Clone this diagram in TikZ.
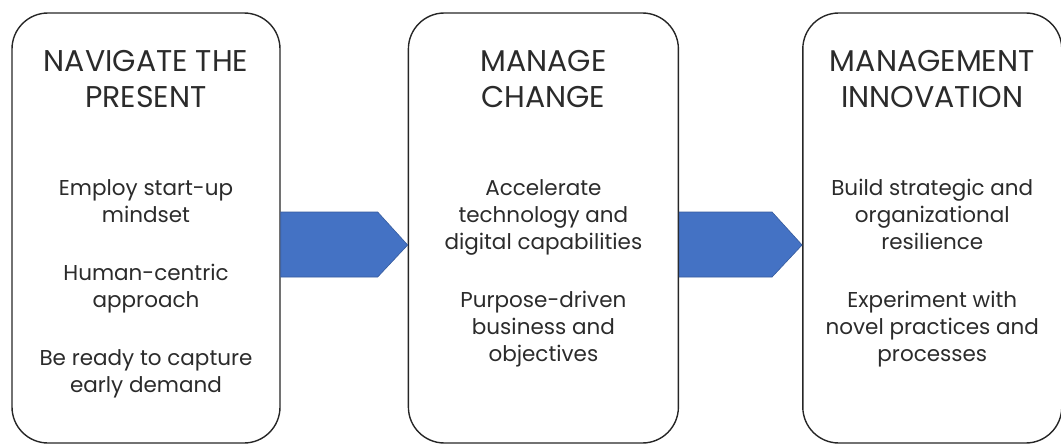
\documentclass[tikz,border=0pt]{standalone}
\usepackage{fontspec}
\setmainfont{Poppins}
\usetikzlibrary{positioning,calc}
\definecolor{arrowblue}{HTML}{4472C4}
\definecolor{inkgray}{HTML}{2B2B2B}
\tikzset{
  phasebox/.style={draw=black!85, line width=1.4pt, rounded corners=36pt, minimum height=430pt, inner sep=0pt},
  phasetitle/.style={align=center, inner sep=0pt, text=inkgray, font=\fontsize{30}{36}\selectfont},
  phasebody/.style={align=center, inner sep=0pt, text=inkgray, font=\fontsize{21.5}{27}\selectfont},
  phasearrow/.style={fill=arrowblue, draw=arrowblue!80!black, line width=0.6pt}
}

\begin{document}
\begin{tikzpicture}[x=1pt, y=-1pt]
\useasboundingbox (0,0) rectangle (1061,444);
\node[phasebox, minimum width=268pt] (nav) at (146,228) {};
\node[phasebox, minimum width=270pt, right=127pt of nav] (chg) {};
\node[phasebox, minimum width=259pt, right=123pt of chg] (inn) {};
% titles
\node[phasetitle, anchor=north] (nav-t) at ([yshift=-38pt]nav.north) {NAVIGATE THE\\PRESENT};
\node[phasetitle, anchor=north] (chg-t) at ([yshift=-38pt]chg.north) {MANAGE\\CHANGE};
\node[phasetitle, anchor=north] (inn-t) at ([yshift=-38pt]inn.north) {MANAGEMENT\\INNOVATION};
% bullet texts
\node[phasebody, anchor=north] (nav-b) at ([yshift=-167pt]nav.north) {Employ start-up\\mindset\\[31pt]Human-centric\\approach\\[31pt]Be ready to capture\\early demand};
\node[phasebody, anchor=north] (chg-b) at ([yshift=-167pt]chg.north) {Accelerate\\technology and\\digital capabilities\\[31pt]Purpose-driven\\business and\\objectives};
\node[phasebody, anchor=north] (inn-b) at ([yshift=-167pt]inn.north) {Build strategic and\\organizational\\resilience\\[31pt]Experiment with\\novel practices and\\processes};
% block arrows
\foreach \a/\b in {nav/chg, chg/inn}
  \filldraw[phasearrow] ([yshift=16pt]\a.east) -- ([xshift=-30pt,yshift=16pt]\b.west) -- ([yshift=-17pt]\b.west)
    -- ([xshift=-30pt,yshift=-49pt]\b.west) -- ([yshift=-49pt]\a.east) -- cycle;
\end{tikzpicture}
\end{document}
